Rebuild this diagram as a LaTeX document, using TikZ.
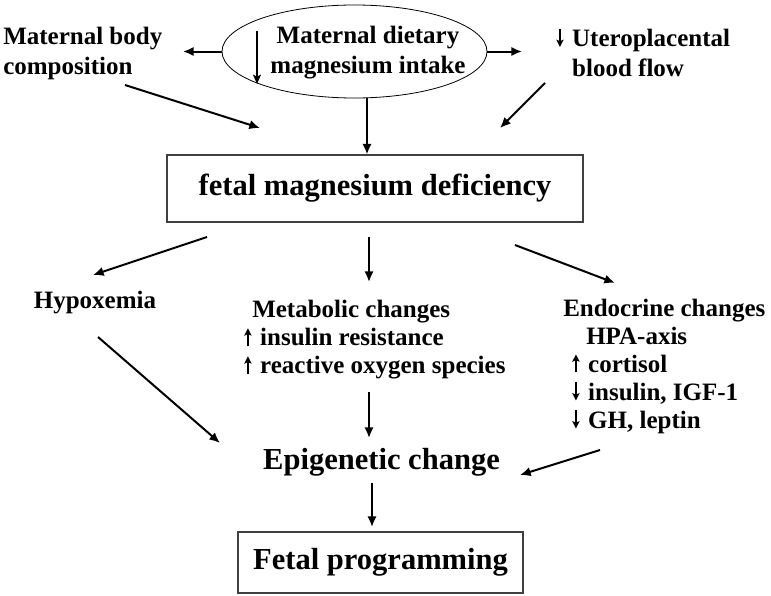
\documentclass[tikz,border=0pt]{standalone}
\usepackage{fontspec}
\setmainfont{Liberation Serif}
\usetikzlibrary{arrows.meta,shapes.geometric}
\newcommand{\myup}{\tikz[baseline=0pt,x=1pt,y=1pt]{\path (0,0) rectangle (8,1);\draw[line width=1.1pt,-{Stealth[length=5.5pt,width=5.5pt,inset=1.2pt]}] (3.5,-0.3) -- (3.5,13.2);}}
\newcommand{\mydown}{\tikz[baseline=0pt,x=1pt,y=1pt]{\path (0,0) rectangle (8,1);\draw[line width=1.1pt,-{Stealth[length=5.5pt,width=5.5pt,inset=1.2pt]}] (3.5,13.2) -- (3.5,-0.3);}}
\begin{document}
\begin{tikzpicture}[x=0.75pt,y=-0.75pt,
  lbl/.style={font=\bfseries\fontsize{18.75}{22.5}\selectfont, inner sep=0pt},
  mid/.style={font=\bfseries\fontsize{18.75}{21}\selectfont, inner sep=0pt, align=left},
  big/.style={font=\bfseries\fontsize{22.9}{27}\selectfont, inner sep=0pt},
  arr/.style={line width=1.5pt, -{Latex[length=8pt,width=7pt]}},
  thinarr/.style={line width=1.1pt, -{Stealth[length=7pt,width=6pt,inset=1.5pt]}},
  boxst/.style={draw=black!75, line width=0.8pt}]
\useasboundingbox (0,0) rectangle (771,596);
% top row
\node[lbl, align=left, anchor=west] (mbc) at (3,53) {Maternal body\\composition};
\node[draw, ellipse, minimum width=198.75pt, minimum height=69.75pt, inner sep=0pt, line width=0.6pt] (ell) at (354.5,51.5) {};
\node[lbl, align=center] (ellt) at (368,53) {Maternal dietary\\magnesium intake};
\coordinate (da1) at (257,31);
\coordinate (da2) at (257,84);
\draw[thinarr] (da1) -- (da2);
\node[lbl, align=left, anchor=west] (upb) at (555,53) {\mydown\ Uteroplacental\\\hspace*{0pt}\phantom{\mydown\ }blood flow};
\coordinate (lA) at (183,51.5);
\coordinate (rA) at (522,51.5);
\draw[arr] (ell.west) -- (lA);
\draw[arr] (ell.east) -- (rA);
\coordinate (d1s) at (125,85);
\coordinate (d1e) at (260,128);
\draw[arr] (d1s) -- (d1e);
\coordinate (d2s) at (545,83);
\coordinate (d2e) at (500,128);
\draw[arr] (d2s) -- (d2e);
% box 1
\node[boxst, big, minimum width=312pt, minimum height=50.25pt] (box1) at (375,188.5) {fetal magnesium deficiency};
\coordinate (v1s) at (367,97.8);
\draw[arr] (v1s) -- (v1s |- box1.north);
% middle row
\coordinate (a1s) at (207,237);
\coordinate (a1e) at (93,275);
\draw[arr] (a1s) -- (a1e);
\coordinate (a2s) at (369,237);
\coordinate (a2e) at (369,282);
\draw[arr] (a2s) -- (a2e);
\coordinate (a3s) at (515,245);
\coordinate (a3e) at (615,283);
\draw[arr] (a3s) -- (a3e);
\node[lbl] (hyp) at (95,303) {Hypoxemia};
\node[mid, anchor=west] (met) at (243,340) {\hspace*{6.75pt}Metabolic changes\\\myup\ insulin resistance\\\myup\ reactive oxygen species};
\node[mid, anchor=west] (endo) at (563,366) {Endocrine changes\\\hspace*{17.25pt}HPA-axis\\\hspace*{6pt}\myup\ cortisol\\\hspace*{6pt}\mydown\ insulin, IGF-1\\\hspace*{6pt}\mydown\ GH, leptin};
% lower arrows
\coordinate (b1s) at (98,337);
\coordinate (b1e) at (220,443);
\draw[arr] (b1s) -- (b1e);
\coordinate (b2s) at (369,392);
\coordinate (b2e) at (369,438);
\draw[arr] (b2s) -- (b2e);
\coordinate (b3s) at (600,450);
\coordinate (b3e) at (520,475);
\draw[arr] (b3s) -- (b3e);
\node[big] (epi) at (381.5,462) {Epigenetic change};
% bottom
\node[boxst, big, minimum width=213.75pt, minimum height=45.75pt] (box2) at (380.5,562.5) {Fetal programming};
\coordinate (e1s) at (372,483);
\coordinate (e1e) at (372,527);
\draw[arr] (e1s) -- (e1e);
\end{tikzpicture}
\end{document}
